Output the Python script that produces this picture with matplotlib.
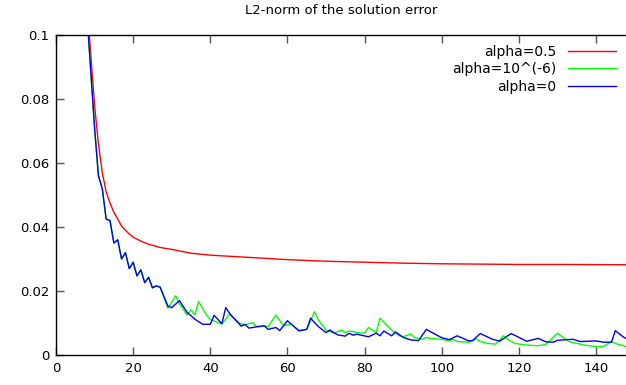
import matplotlib
matplotlib.use("Agg")
import matplotlib.pyplot as plt
from matplotlib.ticker import FuncFormatter

# values
red_x = [7, 8, 9, 10, 11, 12, 13, 14, 15, 16, 17, 18, 19, 20, 22, 24, 27, 30, 35,
         40, 50, 60, 70, 80, 90, 100, 110, 120, 130, 148]
red_y = [0.130, 0.110, 0.094, 0.078, 0.066, 0.057, 0.051, 0.0475, 0.0446, 0.0425,
         0.0403, 0.0390, 0.0378, 0.0368, 0.0356, 0.0346, 0.0336, 0.0330, 0.0318,
         0.0312, 0.0305, 0.0298, 0.0293, 0.0290, 0.0287, 0.0285, 0.0284, 0.0283,
         0.0283, 0.0282]

blue_x = [7, 8, 9, 10, 11, 12, 13, 14, 15, 16, 17, 18, 19, 20, 21, 22, 23, 24, 25, 26,
          27, 29, 30, 32, 34, 36, 38, 40, 41, 43, 44, 45, 48, 49, 50, 52, 54, 55, 57, 58,
          60, 63, 65, 66, 68, 70, 71, 73, 75, 76, 77, 78, 81, 83, 84, 85, 87, 88, 90, 92,
          94, 96, 100, 102, 104, 107, 108, 110, 113, 115, 118, 121, 122, 125, 127, 129,
          130, 134, 136, 140, 142, 144, 145, 147, 148]
blue_y = [0.125, 0.107, 0.089, 0.071, 0.056, 0.052, 0.0425, 0.042, 0.035, 0.036,
          0.030, 0.032, 0.027, 0.029, 0.0247, 0.0266, 0.0226, 0.0243, 0.0210, 0.0216,
          0.0212, 0.0153, 0.0148, 0.0170, 0.0133, 0.0112, 0.0096, 0.0096, 0.0124, 0.0098,
          0.0148, 0.0130, 0.0090, 0.0096, 0.0084, 0.0088, 0.0091, 0.0080, 0.0086, 0.0076,
          0.0107, 0.0075, 0.0080, 0.0115, 0.0089, 0.0070, 0.0078, 0.0063, 0.0059, 0.0068,
          0.0062, 0.0065, 0.0057, 0.0068, 0.0060, 0.0075, 0.0060, 0.0072, 0.0055, 0.0047,
          0.0045, 0.0080, 0.0054, 0.0048, 0.0060, 0.0044, 0.0045, 0.0067, 0.0050, 0.0043,
          0.0067, 0.0049, 0.0043, 0.0052, 0.0041, 0.0040, 0.0046, 0.0049, 0.0042, 0.0044,
          0.0040, 0.0040, 0.0076, 0.0057, 0.0050]

green_x = blue_x[:21] + [29, 31, 32, 34, 35, 36, 37, 39, 40, 43, 45, 46, 48, 49, 51, 52,
                         54, 55, 57, 59, 61, 62, 63, 65, 67, 68, 70, 72, 74, 75, 76, 78,
                         80, 81, 83, 84, 87, 89, 90, 92, 93, 95, 96, 97, 100, 102, 103,
                         104, 107, 109, 110, 112, 114, 116, 117, 119, 122, 125, 127, 128,
                         130, 133, 137, 140, 142, 144, 145, 148]
green_y = blue_y[:21] + [0.0146, 0.0185, 0.0160, 0.0125, 0.0141, 0.0126, 0.0167, 0.0125,
                         0.0111, 0.0097, 0.0128, 0.0115, 0.0097, 0.0094, 0.0101, 0.0089,
                         0.0091, 0.0089, 0.0125, 0.0091, 0.0097, 0.0086, 0.0078, 0.0080,
                         0.0135, 0.0110, 0.0078, 0.0068, 0.0078, 0.0070, 0.0075, 0.0070,
                         0.0068, 0.0086, 0.0070, 0.0115, 0.0078, 0.0060, 0.0057, 0.0066,
                         0.0054, 0.0049, 0.0055, 0.0052, 0.0049, 0.0044, 0.0049, 0.0042,
                         0.0040, 0.0050, 0.0042, 0.0036, 0.0034, 0.0060, 0.0050, 0.0036,
                         0.0031, 0.0029, 0.0033, 0.0045, 0.0068, 0.0042, 0.0031, 0.0026,
                         0.0027, 0.0042, 0.0036, 0.0026]

labels = ["alpha=0.5", "alpha=10^(-6)", "alpha=0"]

plt.rcParams["font.family"] = "DejaVu Sans"
fs = 9.5

fig = plt.figure(figsize=(6.26, 3.85), dpi=100)
# axes run past the right edge of the image, like the cropped gnuplot output
ax = fig.add_axes([56 / 626, 1 - 355 / 385, 584 / 626, 320 / 385])

ax.plot(red_x, red_y, color="#ff0000", lw=1.0, label=labels[0])
ax.plot(green_x, green_y, color="#00ff00", lw=1.0, label=labels[1])
ax.plot(blue_x, blue_y, color="#0000ee", lw=1.0, label=labels[2])

ax.set_xlim(0, 151.4)
ax.set_ylim(0, 0.1)
ax.set_xticks(range(0, 141, 20))
ax.set_yticks([0, 0.02, 0.04, 0.06, 0.08, 0.1])
ax.yaxis.set_major_formatter(FuncFormatter(lambda v, p: "%g" % round(v, 4)))
ax.tick_params(direction="in", length=6, width=1, color="#555555",
               top=True, right=True, labelsize=fs, pad=5)
for s in ax.spines.values():
    s.set_linewidth(1.0)

fig.text(341 / 626, 1 - 10 / 385, "L2-norm of the solution error",
         fontsize=fs, ha="center", va="center")

leg = ax.legend(loc="upper right", frameon=False, markerfirst=False,
                fontsize=fs + 0.5, handlelength=3.5, handletextpad=0.8,
                labelspacing=0.25, borderaxespad=0.3,
                bbox_to_anchor=((626 - 56) / 584, 1.0))

fig.savefig("out.png", dpi=100)
